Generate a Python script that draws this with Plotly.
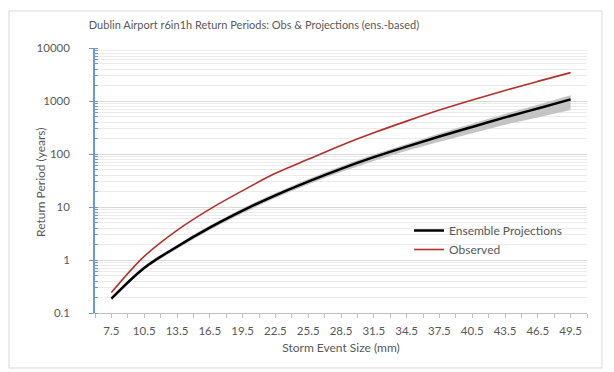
import plotly.graph_objects as go

# Storm event size (mm) at which values were read
storm_size_mm = [7.5, 10.5, 13.5, 16.5, 19.5, 22.5, 25.5, 28.5, 31.5, 34.5, 37.5, 40.5, 43.5, 46.5, 49.5]

# Return periods (years)
ensemble_projections = [0.186, 0.708, 1.78, 4.07, 8.51, 16.6, 30.2, 52.5, 87.1, 138, 214, 324, 490, 724, 1072]
ensemble_upper = [0.200, 0.767, 1.95, 4.47, 9.44, 18.4, 33.9, 58.9, 97.7, 155, 243, 372, 569, 851, 1288]
ensemble_lower = [0.174, 0.653, 1.62, 3.67, 7.59, 14.8, 26.6, 45.7, 74.1, 115, 170, 245, 355, 490, 676]
observed = [0.243, 1.17, 3.63, 9.12, 20.4, 43.2, 79.4, 145, 251, 417, 676, 1047, 1585, 2344, 3430]

x_tick_labels = ["7.5", "10.5", "13.5", "16.5", "19.5", "22.5", "25.5", "28.5",
                 "31.5", "34.5", "37.5", "40.5", "43.5", "46.5", "49.5"]
y_tick_labels = ["0.1", "1", "10", "100", "1000", "10000"]

FONT = "Lato"
TXT = "#595959"
AXBLUE = "#6b9bd2"

fig = go.Figure()
fig.add_trace(go.Scatter(x=storm_size_mm, y=ensemble_upper, mode="lines",
                         line=dict(width=0, shape="spline"), showlegend=False, hoverinfo="skip"))
fig.add_trace(go.Scatter(x=storm_size_mm, y=ensemble_lower, mode="lines", fill="tonexty",
                         fillcolor="#c4c4c4", line=dict(width=0, shape="spline"),
                         showlegend=False, hoverinfo="skip"))
fig.add_trace(go.Scatter(x=storm_size_mm, y=ensemble_projections, mode="lines",
                         name="Ensemble Projections",
                         line=dict(color="#000000", width=2.5, shape="spline")))
fig.add_trace(go.Scatter(x=storm_size_mm, y=observed, mode="lines", name="Observed",
                         line=dict(color="#b3302b", width=1.6, shape="spline")))

# plot area: x 95..587, y 48..313
L, R, T, B = 95, 27, 48, 59
W, H = 614, 372
pw, ph = W - L - R, H - T - B

fig.update_layout(
    width=W, height=H,
    margin=dict(l=L, r=R, t=T, b=B, autoexpand=False),
    paper_bgcolor="white", plot_bgcolor="white",
    font=dict(family=FONT, color=TXT, size=11),
    title=dict(text="Dublin Airport r6in1h Return Periods: Obs & Projections (ens.-based)",
               xref="container", x=254 / W, xanchor="center",
               yref="container", y=1 - 25 / H, yanchor="middle",
               font=dict(family=FONT, size=11, color=TXT)),
    legend=dict(x=(409 - L) / pw, y=(H - B - 216) / ph, xanchor="left", yanchor="top",
                traceorder="normal",
                bgcolor="rgba(0,0,0,0)", font=dict(size=12, color=TXT)),
    xaxis=dict(range=[6, 51], tickmode="array",
               tickvals=[float(t) for t in x_tick_labels], ticktext=x_tick_labels,
               ticks="outside", ticklen=4, tickcolor="#bfbfbf",
               showline=True, linecolor="#bfbfbf", linewidth=1,
               showgrid=False, zeroline=False,
               minor=dict(tick0=6, dtick=1.5, ticks="outside", ticklen=4,
                          tickcolor="#bfbfbf", showgrid=False),
               ticklabelstandoff=3,
               tickfont=dict(size=11.5, color=TXT),
               title=dict(text="Storm Event Size (mm)", font=dict(size=12, color=TXT), standoff=7)),
    yaxis=dict(type="log", range=[-1, 4], tickmode="array",
               tickvals=[float(t) for t in y_tick_labels], ticktext=y_tick_labels,
               ticks="outside", ticklen=4, tickcolor=AXBLUE,
               showline=True, linecolor=AXBLUE, linewidth=1.5,
               showgrid=True, gridcolor="#d9d9d9", gridwidth=1, zeroline=False,
               minor=dict(dtick="D1", ticks="inside", ticklen=3, tickcolor=AXBLUE,
                          showgrid=True, gridcolor="#ebebeb", gridwidth=1),
               ticklabelstandoff=17,
               tickfont=dict(size=11.5, color=TXT)),
    annotations=[dict(text="Return Period (years)", textangle=-90,
                      xref="paper", yref="paper", x=(40 - L) / pw, y=(H - B - 182) / ph,
                      xanchor="center", yanchor="middle", showarrow=False,
                      font=dict(size=12, color=TXT))],
    shapes=[dict(type="rect", xref="paper", yref="paper",
                 x0=(9 - L) / pw, x1=(602 - L) / pw,
                 y0=(H - B - 368) / ph, y1=(H - B - 11) / ph,
                 line=dict(color="#d9d9d9", width=1), layer="below")],
)

fig.write_html("out.html", config={"displayModeBar": False},
               post_script="document.body.style.margin='0';")
